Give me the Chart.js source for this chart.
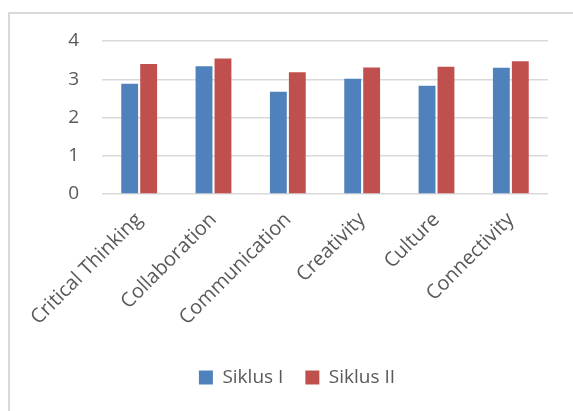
<!DOCTYPE html>
<html>
<head>
<meta charset="utf-8">
<script src="https://cdn.jsdelivr.net/npm/chart.js@4.4.1/dist/chart.umd.min.js"></script>
<style>
  body { margin: 0; background: #fff; }
  #wrap { position: relative; width: 573px; height: 411px; overflow: hidden; }
  #frame { position: absolute; left: 8px; top: 12px; width: 700px; height: 500px;
           border-top: 2px solid #d9d9d9; border-left: 2px solid #d9d9d9; }
  #box { position: absolute; left: 0; top: 0; width: 573px; height: 411px; }
</style>
</head>
<body>
<div id="wrap">
  <div id="frame"></div>
  <div id="box"><canvas id="chart1"></canvas></div>
</div>
<script>
// datos
var categorias = ['Critical Thinking', 'Collaboration', 'Communication', 'Creativity', 'Culture', 'Connectivity'];
var siklus1 = [2.88, 3.34, 2.67, 3.01, 2.83, 3.30];
var siklus2 = [3.40, 3.54, 3.18, 3.31, 3.33, 3.47];
var yTicks = [0, 1, 2, 3, 4];

var fuente = "'Open Sans', sans-serif";
var gris = '#595959';

var ctx = document.getElementById('chart1').getContext('2d');
var chart1_bar = new Chart(ctx, {
  type: 'bar',
  data: {
    labels: categorias,
    datasets: [
      {
        label: 'Siklus I',
        data: siklus1,
        backgroundColor: '#4f81bd',
        borderWidth: 0
      }, {
        label: 'Siklus II',
        data: siklus2,
        backgroundColor: '#c0504d',
        borderWidth: 0
      }
    ]
  },
  options: {
    responsive: true,
    maintainAspectRatio: false,
    animation: false,
    datasets: {
      bar: { categoryPercentage: 0.51, barPercentage: 0.89 }
    },
    layout: {
      padding: { left: 46, right: 25, top: 41, bottom: 14 }
    },
    plugins: {
      tooltip: { enabled: false },
      legend: {
        position: 'bottom',
        labels: {
          color: gris,
          boxWidth: 14,
          boxHeight: 14,
          padding: 22,
          font: { family: fuente, size: 19 }
        }
      }
    },
    scales: {
      x: {
        grid: { display: false },
        border: { display: false },
        afterFit: function(scale) {
          scale.paddingLeft = 0;
          scale.paddingRight = 0;
          scale.height = 152;
        },
        ticks: {
          color: gris,
          minRotation: 45,
          maxRotation: 45,
          autoSkip: false,
          padding: 6,
          font: { family: fuente, size: 20 }
        }
      },
      y: {
        min: 0,
        max: 4,
        afterBuildTicks: function(axis) {
          axis.ticks = yTicks.map(function(v){ return { value: v }; });
        },
        afterFit: function(scale) {
          scale.width = 56;
          scale.paddingTop = 0;
        },
        grid: { color: '#d9d9d9', lineWidth: 1.5, drawTicks: false },
        border: { display: false },
        ticks: {
          color: gris,
          padding: 23,
          font: { family: fuente, size: 19 }
        }
      }
    }
  }
});
</script>
</body>
</html>
